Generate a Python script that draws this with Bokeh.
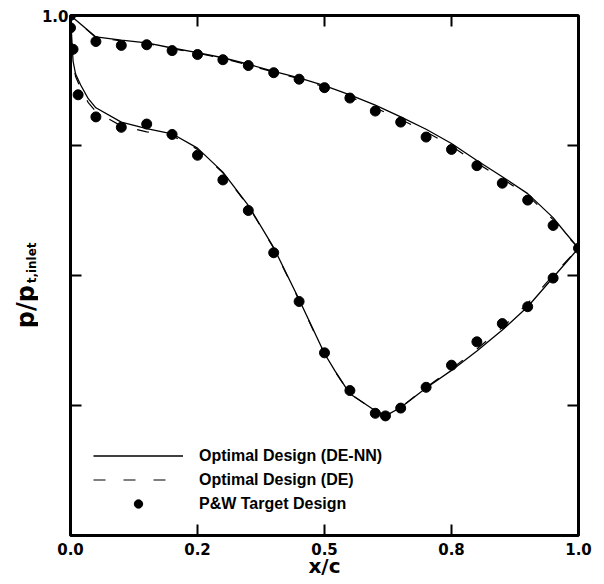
import math
from bokeh.plotting import figure
from bokeh.layouts import row
from bokeh.models import FixedTicker, Legend, LegendItem, Range1d
from bokeh.core.properties import value
from bokeh.embed import file_html
from bokeh.resources import INLINE

# ---------------- data ----------------
x_ticks = [0, 0.25, 0.5, 0.75, 1]
x_tick_labels = ["0.0", "0.2", "0.5", "0.8", "1.0"]
y_label_ticks = [1.0]
y_label_texts = ["1.0"]
y_inner_ticks = [0.4, 0.6, 0.8]
x_inner_ticks = [0.25, 0.5, 0.75]
y_title_main = "p/p"
y_title_sub = "t,inlet"

# P&W target design (dots)
target_upper_x = [0.0, 0.05, 0.10, 0.15, 0.20, 0.25, 0.30, 0.35, 0.40, 0.45, 0.50,
                  0.55, 0.60, 0.65, 0.70, 0.75, 0.80, 0.85, 0.90, 0.95, 1.0]
target_upper_y = [1.0, 0.960, 0.954, 0.955, 0.946, 0.940, 0.932, 0.923, 0.912, 0.902, 0.889,
                  0.873, 0.853, 0.836, 0.813, 0.794, 0.769, 0.742, 0.716, 0.677, 0.642]
target_lower_x = [0.0, 0.005, 0.015, 0.05, 0.10, 0.15, 0.20, 0.25, 0.30, 0.35, 0.40, 0.45,
                  0.50, 0.55, 0.60, 0.62, 0.65, 0.70, 0.75, 0.80, 0.85, 0.90, 0.95]
target_lower_y = [0.981, 0.948, 0.878, 0.844, 0.828, 0.833, 0.817, 0.785, 0.747, 0.700, 0.635, 0.560,
                  0.481, 0.423, 0.388, 0.384, 0.396, 0.428, 0.462, 0.498, 0.526, 0.552, 0.596]

# Optimal design curves
upper_x = [0.0, 0.05, 0.10, 0.15, 0.20, 0.25, 0.30, 0.35, 0.40, 0.45, 0.50,
           0.55, 0.60, 0.65, 0.70, 0.75, 0.80, 0.85, 0.90, 0.95, 0.975, 1.0]
denn_upper_y = [1.0, 0.967, 0.962, 0.958, 0.950, 0.943, 0.935, 0.925, 0.914, 0.904, 0.892,
                0.878, 0.862, 0.844, 0.825, 0.803, 0.777, 0.752, 0.726, 0.689, 0.665, 0.642]
de_upper_y = [1.0, 0.966, 0.961, 0.957, 0.949, 0.942, 0.934, 0.924, 0.913, 0.903, 0.890,
              0.875, 0.858, 0.840, 0.821, 0.799, 0.773, 0.749, 0.723, 0.686, 0.663, 0.642]
lower_x = [0.0, 0.005, 0.01, 0.02, 0.035, 0.05, 0.10, 0.15, 0.20, 0.25, 0.30, 0.35, 0.40,
           0.45, 0.50, 0.52, 0.55, 0.60, 0.62, 0.65, 0.70, 0.75, 0.80, 0.85, 0.90, 0.95, 1.0]
denn_lower_y = [1.0, 0.93, 0.91, 0.893, 0.872, 0.858, 0.836, 0.826, 0.818, 0.796, 0.759, 0.708, 0.643,
                0.563, 0.480, 0.454, 0.418, 0.392, 0.384, 0.397, 0.427, 0.454, 0.484, 0.516, 0.552, 0.597, 0.642]
de_lower_y = [1.0, 0.928, 0.906, 0.888, 0.866, 0.852, 0.830, 0.821, 0.815, 0.794, 0.758, 0.707, 0.642,
              0.562, 0.479, 0.453, 0.418, 0.392, 0.384, 0.397, 0.428, 0.456, 0.487, 0.520, 0.557, 0.600, 0.642]

# ---------------- figure ----------------
BOLD_FONT = "DejaVu Sans"
LEG_FONT = "Liberation Sans"
LEFT_W = 38

p = figure(frame_width=508, frame_height=520, x_range=(0, 1), y_range=(0.2, 1.0),
           output_backend="svg", toolbar_location=None,
           min_border_left=70 - LEFT_W, min_border_top=15, min_border_right=14, min_border_bottom=10)
p.grid.visible = False
p.outline_line_color = "black"
p.outline_line_width = 3
p.background_fill_color = "white"
p.border_fill_color = "white"

def style_axis(ax):
    ax.axis_line_color = None
    ax.major_tick_in = 11
    ax.major_tick_out = 0
    ax.major_tick_line_width = 2
    ax.major_tick_line_color = "black"
    ax.minor_tick_line_color = None
    ax.major_label_text_font = BOLD_FONT
    ax.major_label_text_font_style = "bold"
    ax.major_label_text_font_size = "15px"
    ax.major_label_text_color = "black"

xb = p.xaxis[0]
xb.ticker = FixedTicker(ticks=x_ticks)
xb.major_label_overrides = dict(zip(x_ticks, x_tick_labels))
style_axis(xb)
xb.major_label_standoff = 7
xb.axis_label = "x/c"
xb.axis_label_text_font = BOLD_FONT
xb.axis_label_text_font_style = "bold"
xb.axis_label_text_font_size = "20px"
xb.axis_label_text_color = "black"
xb.axis_label_standoff = -4

yl = p.yaxis[0]
yl.ticker = FixedTicker(ticks=y_label_ticks)
yl.major_label_overrides = dict(zip(y_label_ticks, y_label_texts))
style_axis(yl)
yl.major_label_standoff = 2
yl.major_label_orientation = "horizontal"

# inward tick marks on the other sides (from tick arrays)
TICK = 11
p.ray(x=x_inner_ticks, y=[1.0] * len(x_inner_ticks), length=TICK, length_units="screen",
      angle=-math.pi / 2, line_color="black", line_width=2)
p.ray(x=[0] * len(y_inner_ticks), y=y_inner_ticks, length=TICK, length_units="screen",
      angle=0, line_color="black", line_width=2)
p.ray(x=[1] * len(y_inner_ticks), y=y_inner_ticks, length=TICK, length_units="screen",
      angle=math.pi, line_color="black", line_width=2)

# curves
solid_x = upper_x[::-1] + lower_x[1:]
solid_y = denn_upper_y[::-1] + denn_lower_y[1:]
dash_y = de_upper_y[::-1] + de_lower_y[1:]
r_de = p.line(solid_x, dash_y, line_color="black", line_width=1.2, line_dash="12 18")
r_nn = p.line(solid_x, solid_y, line_color="black", line_width=1.3)
r_tg = p.scatter(target_upper_x + target_lower_x, target_upper_y + target_lower_y,
                 size=10, color="black", marker="circle")

legend = Legend(items=[LegendItem(label="Optimal Design (DE-NN)", renderers=[r_nn]),
                       LegendItem(label="Optimal Design (DE)", renderers=[r_de]),
                       LegendItem(label="P&W Target Design", renderers=[r_tg])],
                location=(23, 21), glyph_width=90, glyph_height=21, label_height=21,
                spacing=3, padding=0, margin=0, label_standoff=16,
                border_line_color=None, background_fill_alpha=0,
                label_text_font=LEG_FONT, label_text_font_style="bold",
                label_text_font_size="16px", label_text_color="black")
p.add_layout(legend)

# ---------------- y-axis title panel (left strip, pixel coordinates) ----------------
H = 560
q = figure(width=LEFT_W, height=H, x_range=Range1d(0, LEFT_W), y_range=Range1d(H, 0),
           output_backend="svg", toolbar_location=None,
           min_border=0, min_border_left=0, min_border_right=0,
           min_border_top=0, min_border_bottom=0)
q.axis.visible = False
q.grid.visible = False
q.outline_line_color = None
q.background_fill_color = "white"
q.border_fill_color = "white"
q.text(x=[25], y=[302], text=[y_title_main], angle=math.pi / 2,
       text_align="right", text_baseline="middle",
       text_font=value(BOLD_FONT), text_font_style="bold", text_font_size="24px",
       text_color="black")
q.text(x=[31], y=[300], text=[y_title_sub], angle=math.pi / 2,
       text_align="left", text_baseline="middle",
       text_font=value(BOLD_FONT), text_font_style="bold", text_font_size="12px",
       text_color="black")

layout = row(q, p, spacing=0)
open("out.html", "w").write(file_html(layout, INLINE))
